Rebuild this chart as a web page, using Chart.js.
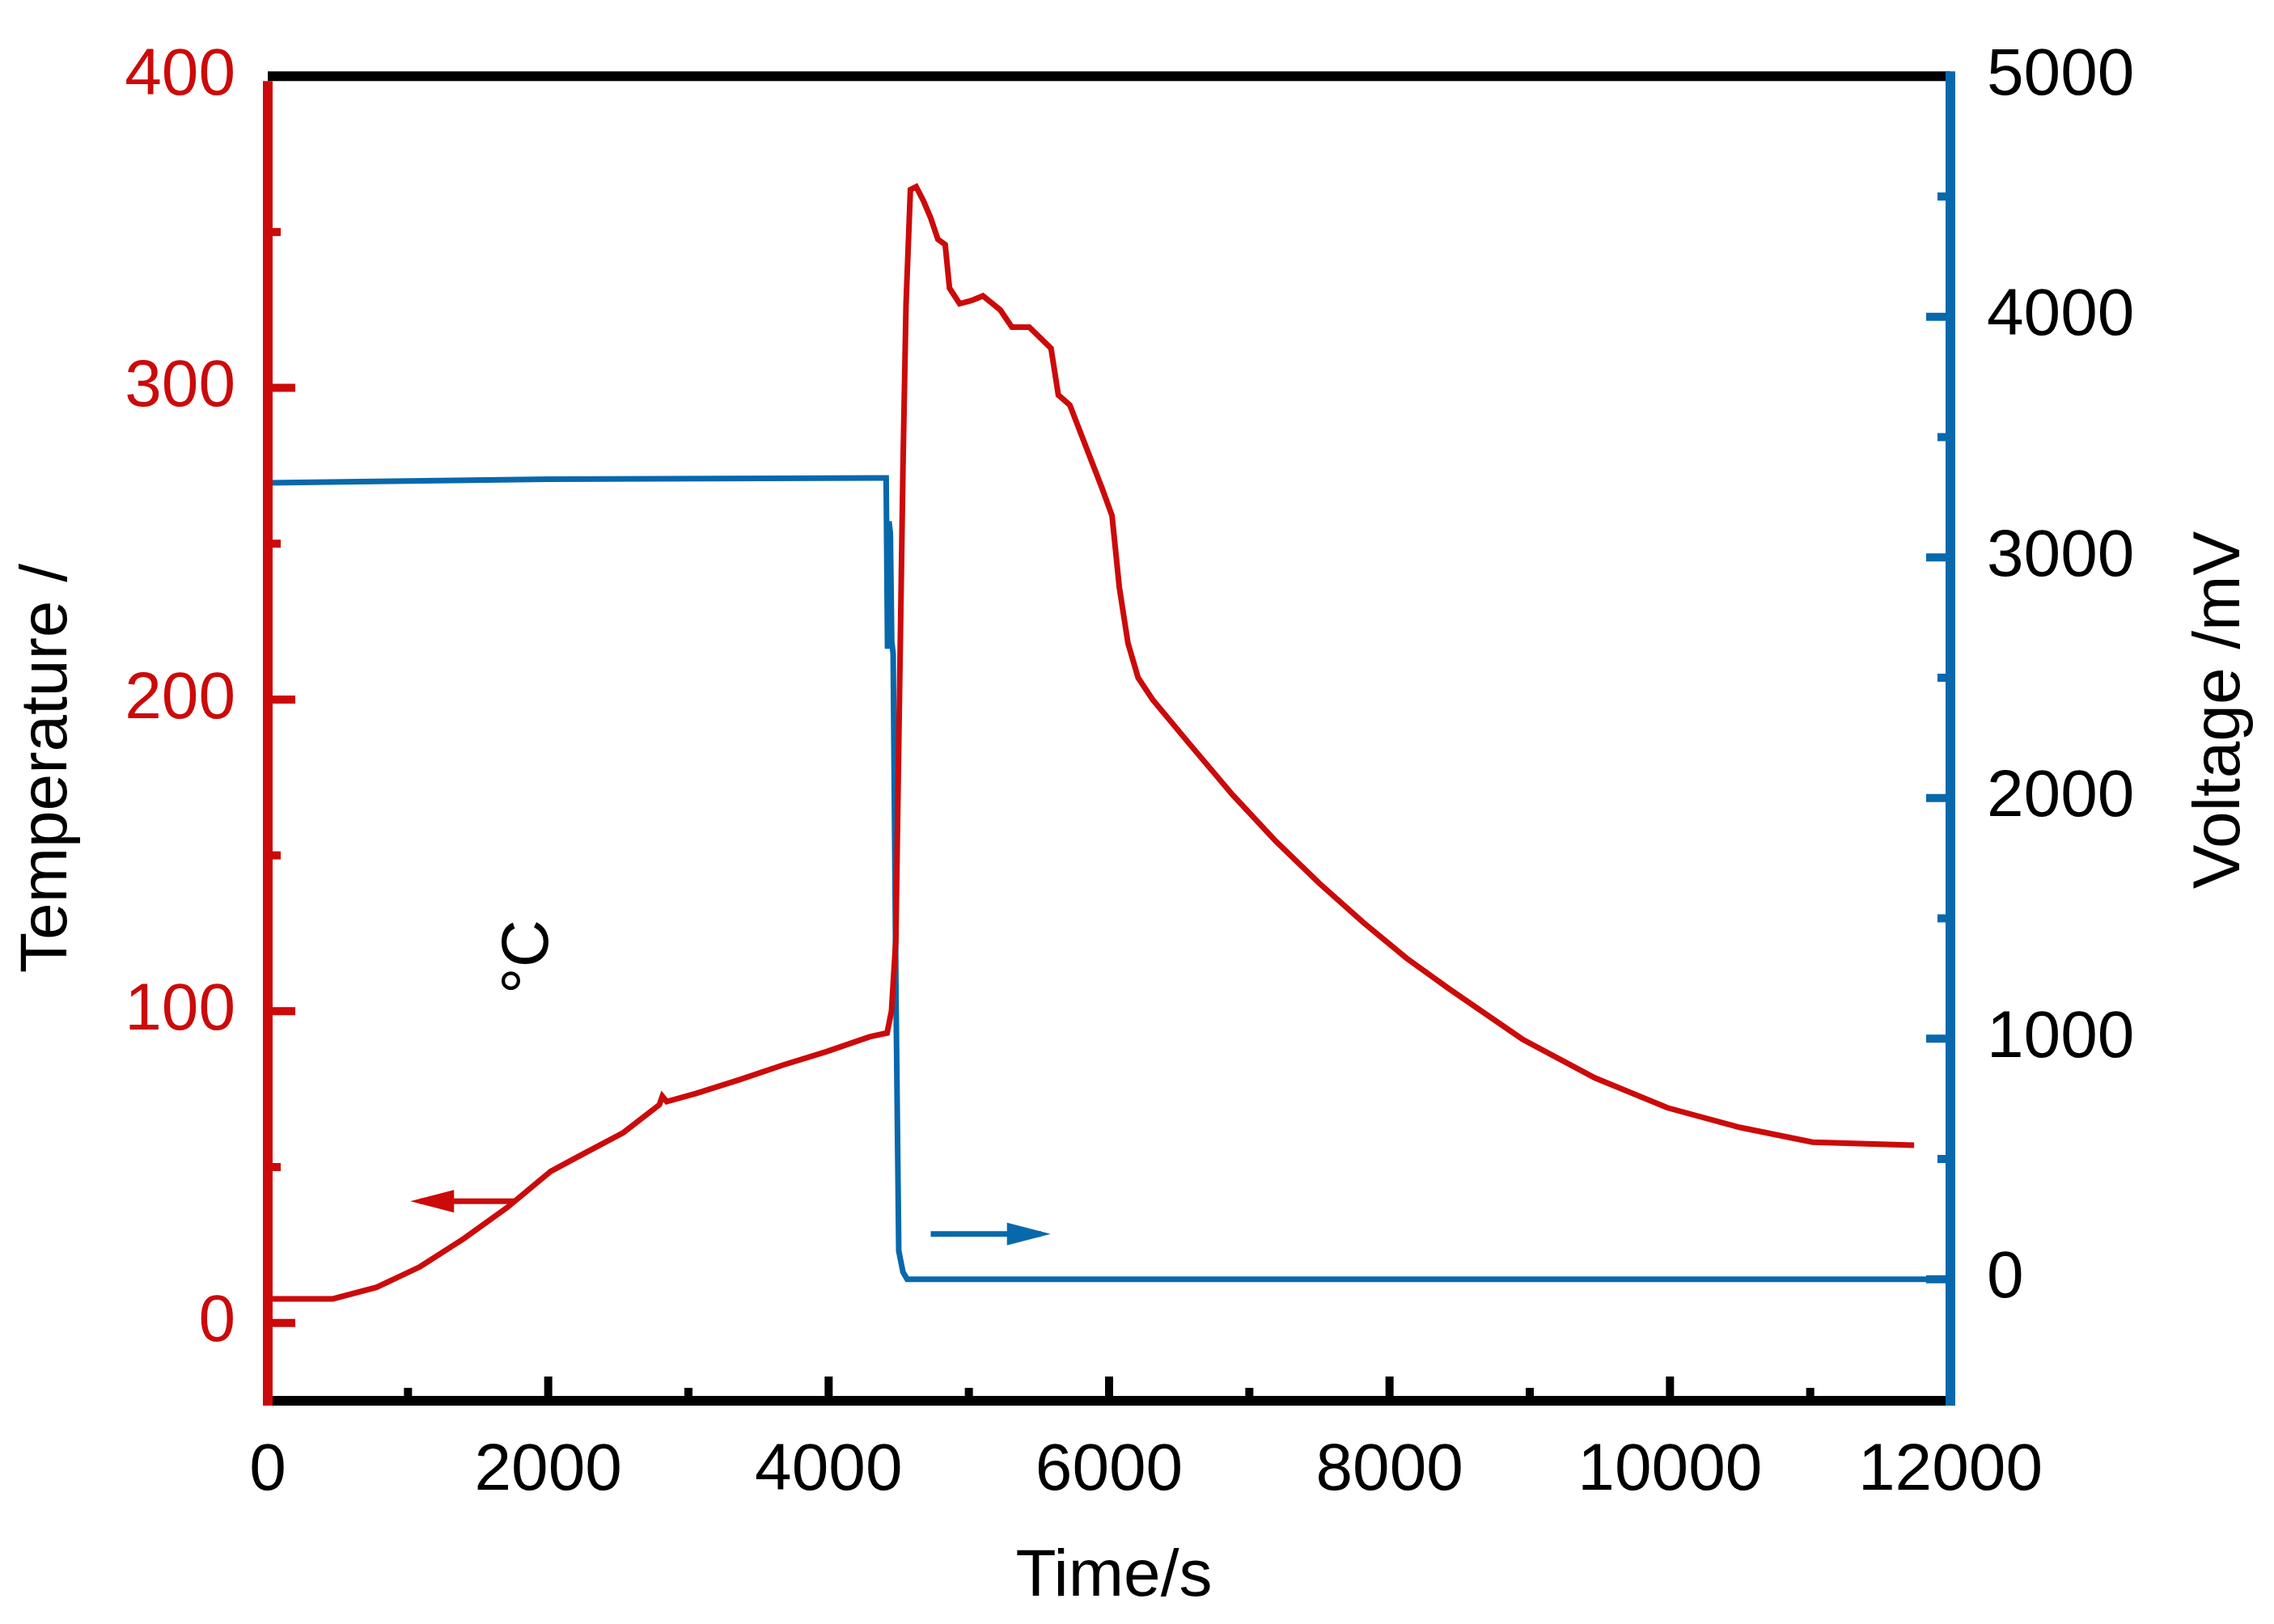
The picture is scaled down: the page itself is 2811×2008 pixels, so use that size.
<!DOCTYPE html>
<html><head><meta charset="utf-8">
<script src="https://cdn.jsdelivr.net/npm/chart.js@4/dist/chart.umd.min.js"></script>
<style>html,body{margin:0;padding:0;background:#fff}#w{width:2811px;height:2008px}</style>
</head><body><div id="w"><canvas id="c"></canvas></div>
<script>
const timeT=[0,465,776,1086,1397,1707,2017,2224,2535,2793,2814,2845,3052,3362,3672,3983,4293,4417,4448,4479,4500,4531,4552,4583,4624,4676,4728,4779,4831,4862,4934,5017,5100,5224,5307,5431,5586,5638,5720,5793,5948,6021,6073,6135,6207,6310,6569,6879,7190,7500,7810,8121,8431,8948,9465,9983,10500,11017,11741];
const tempC=[7.7,7.7,11.4,18,27,37,48.6,53.6,61,70,72.7,71,73.6,78,82.7,87,91.8,93,100,122.7,186,277,327,363.6,364.5,360,354.5,347.7,346,332,327,328,329.5,325,319.5,319.5,312.7,297.7,294.5,286,268,259,236,218,207,200,186,169.5,154.5,141,128.6,117,107,91,78.6,69,62.7,58,57];
const timeV=[0,2000,4300,4410,4420,4430,4440,4450,4460,4480,4500,4530,4560,11850];
const voltage=[3310,3325,3330,3330,2620,3150,3100,2650,2600,1200,118,30,0,0];
const xTicks=[0,2000,4000,6000,8000,10000,12000];
const tTicks=[0,100,200,300,400];
const vTicks=[0,1000,2000,3000,4000,5000];
const RED='#cc0a0a',BLUE='#0868ac',FONT='"Liberation Sans", Arial, sans-serif';
const pts=(xs,ys)=>xs.map((x,i)=>({x,y:ys[i]}));
const fmt=v=>String(v);
const deco={id:'deco',afterDraw(ch){
 const c=ch.ctx,a=ch.chartArea,X=ch.scales.x,T=ch.scales.y,V=ch.scales.y2;
 c.save();c.lineCap='butt';
 c.lineWidth=10;
 c.strokeStyle='#000';
 for(let v=0;v<=12000;v+=1000){const p=X.getPixelForValue(v);const L=v%2000?16:30;c.beginPath();c.moveTo(p,a.bottom);c.lineTo(p,a.bottom-L);c.stroke();}
 c.strokeStyle=RED;
 for(let v=0;v<=400;v+=50){const p=T.getPixelForValue(v);const L=v%100?16:34;c.beginPath();c.moveTo(a.left,p);c.lineTo(a.left+L,p);c.stroke();}
 c.strokeStyle=BLUE;
 for(let v=0;v<=5000;v+=500){const p=V.getPixelForValue(v);const L=v%1000?16:30;c.beginPath();c.moveTo(a.right,p);c.lineTo(a.right-L,p);c.stroke();}
 c.lineWidth=12;
 c.strokeStyle='#000';c.beginPath();c.moveTo(a.left,a.top);c.lineTo(a.right,a.top);c.stroke();
 c.beginPath();c.moveTo(a.left,a.bottom);c.lineTo(a.right,a.bottom);c.stroke();
 c.strokeStyle=RED;c.beginPath();c.moveTo(a.left,a.top+6);c.lineTo(a.left,a.bottom+6);c.stroke();
 c.strokeStyle=BLUE;c.beginPath();c.moveTo(a.right,a.top-6);c.lineTo(a.right,a.bottom+6);c.stroke();
 function arrow(x1,x2,y,col,s){const p1=X.getPixelForValue(x1),p2=X.getPixelForValue(x2),py=s.getPixelForValue(y);
  c.strokeStyle=col;c.fillStyle=col;c.lineWidth=7;c.beginPath();c.moveTo(p1,py);c.lineTo(p2,py);c.stroke();
  const d=p2>p1?1:-1;c.beginPath();c.moveTo(p2+d*12,py);c.lineTo(p2-d*42,py-14);c.lineTo(p2-d*42,py+14);c.closePath();c.fill();}
 arrow(1760,1086,39,RED,T);
 arrow(4728,5514,188,BLUE,V);
 c.fillStyle='#000';c.font='82px '+FONT;c.textAlign='center';c.textBaseline='middle';
 c.save();c.translate(59,950);c.rotate(-Math.PI/2);c.fillText('Temperature /',0,0);c.restore();
 c.save();c.translate(654,1183);c.rotate(-Math.PI/2);c.fillText('°C',0,0);c.restore();
 c.save();c.translate(2745,878);c.rotate(-Math.PI/2);c.fillText('Voltage /mV',0,0);c.restore();
 c.fillText('Time/s',1377,1950);
 c.restore();}};
new Chart(document.getElementById('c'),{type:'line',
 data:{datasets:[
  {data:pts(timeT,tempC),yAxisID:'y',borderColor:RED,borderWidth:7,pointRadius:0,tension:0},
  {data:pts(timeV,voltage),yAxisID:'y2',borderColor:BLUE,borderWidth:7,pointRadius:0,tension:0}]},
 options:{responsive:true,maintainAspectRatio:false,animation:false,devicePixelRatio:1,
  layout:{padding:{top:22,left:0,right:0,bottom:0}},
  plugins:{legend:{display:false},tooltip:{enabled:false}},
  scales:{
   x:{type:'linear',min:0,max:12000,afterBuildTicks:s=>{s.ticks=xTicks.map(v=>({value:v}))},
      grid:{display:false,drawTicks:false},border:{display:false},
      ticks:{color:'#000',font:{size:82,family:FONT},padding:38,maxRotation:0,callback:fmt},
      afterFit:s=>{s.height=276}},
   y:{position:'left',min:-25,max:400,afterBuildTicks:s=>{s.ticks=tTicks.map(v=>({value:v}))},
      grid:{display:false,drawTicks:false},border:{display:false},
      ticks:{color:RED,font:{size:82,family:FONT},padding:40,callback:fmt},afterFit:s=>{s.width=331}},
   y2:{position:'right',min:-505,max:5000,afterBuildTicks:s=>{s.ticks=vTicks.map(v=>({value:v}))},
      grid:{display:false,drawTicks:false},border:{display:false},
      ticks:{color:'#000',font:{size:82,family:FONT},padding:45,callback:fmt},afterFit:s=>{s.width=400}}
  }},plugins:[deco]});
</script></body></html>
